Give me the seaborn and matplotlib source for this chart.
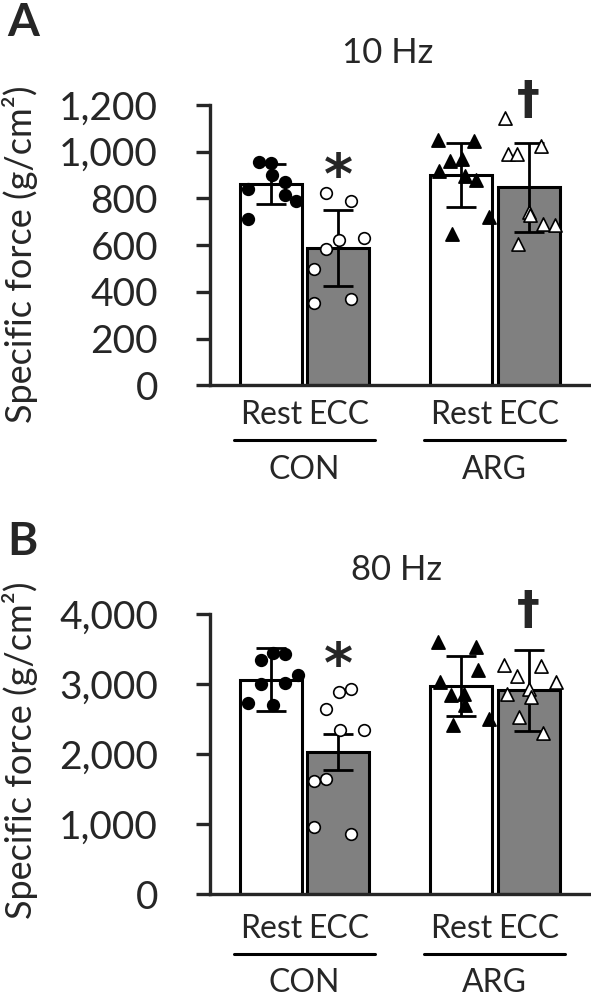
import matplotlib
matplotlib.use("Agg")
import matplotlib.pyplot as plt
import pandas as pd
import seaborn as sns

groups = ["CON", "ARG"]
conditions = ["Rest", "ECC"]
bar_keys = [("CON", "Rest"), ("CON", "ECC"), ("ARG", "Rest"), ("ARG", "ECC")]

# bar means and SD (order follows bar_keys)
mean_10hz = [862, 588, 900, 848]
sd_10hz = [86, 164, 136, 190]
mean_80hz = [3069, 2032, 2975, 2912]
sd_80hz = [445, 262, 430, 576]

# individual animals, 10 Hz
con_rest_10 = [957, 950, 900, 872, 839, 815, 787, 712]
con_ecc_10 = [825, 787, 623, 630, 584, 497, 352, 369]
arg_rest_10 = [1050, 1047, 962, 968, 918, 896, 879, 722, 648]
arg_ecc_10 = [1143, 990, 990, 1026, 744, 730, 691, 687, 606]
# horizontal scatter of each point inside its bar (as seen in the figure)
con_rest_10_dx = [-0.06, 0.0, 0.007, 0.072, -0.121, 0.075, 0.133, -0.121]
con_ecc_10_dx = [-0.065, 0.067, 0.002, 0.133, -0.065, -0.13, -0.13, 0.067]
arg_rest_10_dx = [-0.123, 0.07, -0.058, 0.005, -0.114, 0.018, 0.079, 0.149, -0.047]
arg_ecc_10_dx = [-0.126, -0.109, -0.061, 0.067, 0.002, 0.009, 0.075, 0.137, -0.056]

# individual animals, 80 Hz
con_rest_80 = [3341, 3451, 3427, 3137, 3008, 3018, 2732, 2698]
con_ecc_80 = [2889, 2937, 2651, 2341, 2351, 1626, 1641, 960, 865]
arg_rest_80 = [3604, 3532, 3208, 3032, 2851, 2865, 2698, 2412, 2498]
arg_ecc_80 = [3280, 3118, 3255, 3032, 2865, 2937, 2818, 2532, 2308]
con_rest_80_dx = [-0.051, 0.011, 0.072, 0.142, -0.051, 0.075, -0.121, 0.011]
con_ecc_80_dx = [0.002, 0.067, -0.065, 0.007, 0.133, -0.13, -0.065, -0.13, 0.067]
arg_rest_80_dx = [-0.119, 0.079, 0.088, -0.109, -0.053, 0.014, 0.021, -0.044, 0.149]
arg_ecc_80_dx = [-0.13, -0.06, 0.067, 0.142, -0.116, 0.002, 0.011, -0.051, 0.077]

sns.set_style("ticks")
plt.rcParams["font.family"] = ["Lato", "DejaVu Sans"]
plt.rcParams["axes.linewidth"] = 2.4

BAR_W = 0.71
point_style = {
    ("CON", "Rest"): ("o", "black", 70),
    ("CON", "ECC"): ("o", "white", 70),
    ("ARG", "Rest"): ("^", "black", 90),
    ("ARG", "ECC"): ("^", "white", 90),
}


def bar_x(group, cond):
    return groups.index(group) + (conditions.index(cond) - 0.5) * BAR_W / 2


def draw_panel(ax, means, sds, pts, offsets, ymax, ystep, star_y, dagger_y,
               xpad, line_y, name_y):
    df_bar = pd.DataFrame({
        "group": [g for g, c in bar_keys],
        "condition": [c for g, c in bar_keys],
        "force": means,
    })
    sns.barplot(data=df_bar, x="group", y="force", hue="condition",
                order=groups, hue_order=conditions,
                palette={"Rest": "white", "ECC": "#808080"},
                width=BAR_W, gap=0.08, edgecolor="black", linewidth=2.2,
                errorbar=None, legend=False, ax=ax)

    xs = [bar_x(g, c) for g, c in bar_keys]
    ax.errorbar(xs, means, yerr=sds, fmt="none", ecolor="black",
                elinewidth=2.0, capsize=11, capthick=2.0, zorder=3)

    for key, vals, dx in zip(bar_keys, pts, offsets):
        m, fc, s = point_style[key]
        x0 = bar_x(*key)
        sns.scatterplot(x=[x0 + d for d in dx], y=vals, marker=m, color=fc,
                        edgecolor="black", linewidth=1.2, s=s, ax=ax,
                        zorder=4, legend=False)

    # significance marks: * vs Rest, † vs CON
    ax.text(bar_x("CON", "ECC"), star_y, "*", ha="center", va="baseline",
            fontsize=40, fontweight="bold", family="DejaVu Sans",
            clip_on=False)
    ax.text(bar_x("ARG", "ECC"), dagger_y, "†", ha="center", va="center",
            fontsize=33, fontweight="bold", family="DejaVu Sans",
            clip_on=False)

    ax.set_xlim(-0.5, 1.5)
    ax.set_ylim(0, ymax)
    ticks = list(range(0, ymax + 1, ystep))
    ax.set_yticks(ticks)
    ax.set_yticklabels([f"{t:,}" for t in ticks])
    ax.tick_params(axis="y", length=10, width=2.4, pad=27, labelsize=28)
    ax.set_xticks(xs)
    ax.set_xticklabels([c for g, c in bar_keys])
    ax.tick_params(axis="x", length=0, pad=xpad, labelsize=23)
    ax.set_xlabel("")
    ax.set_ylabel("")
    sns.despine(ax=ax)

    trans = ax.get_xaxis_transform()
    for gi, g in enumerate(groups):
        ax.plot([gi - 0.37, gi + 0.37], [line_y, line_y], color="black",
                lw=2.2, transform=trans, clip_on=False)
        ax.text(gi, name_y, g, ha="center", va="baseline", fontsize=23,
                transform=trans)


fig = plt.figure(figsize=(5.91, 9.97), dpi=100)
ax_a = fig.add_axes([0.3545, 0.6135, 0.6438, 0.2812])
ax_b = fig.add_axes([0.3545, 0.1030, 0.6438, 0.2808])

draw_panel(ax_a, mean_10hz, sd_10hz,
           [con_rest_10, con_ecc_10, arg_rest_10, arg_ecc_10],
           [con_rest_10_dx, con_ecc_10_dx, arg_rest_10_dx, arg_ecc_10_dx],
           1200, 200, star_y=823, dagger_y=1216,
           xpad=10.5, line_y=-0.196, name_y=-0.335)
draw_panel(ax_b, mean_80hz, sd_80hz,
           [con_rest_80, con_ecc_80, arg_rest_80, arg_ecc_80],
           [con_rest_80_dx, con_ecc_80_dx, arg_rest_80_dx, arg_ecc_80_dx],
           4000, 1000, star_y=3034, dagger_y=4034,
           xpad=14.5, line_y=-0.214, name_y=-0.35)

# panel letters, frequency titles, y labels
fig.text(0.012, 0.9639, "A", fontsize=33, fontweight="bold", va="baseline")
fig.text(0.012, 0.4433, "B", fontsize=33, fontweight="bold", va="baseline")
fig.text(0.6565, 0.9368, "10 Hz", fontsize=25, ha="center", va="baseline")
fig.text(0.6717, 0.4183, "80 Hz", fontsize=25, ha="center", va="baseline")
fig.text(0.034, 0.745, "Specific force (g/cm²)", fontsize=26, rotation=90,
         ha="center", va="center")
fig.text(0.034, 0.2477, "Specific force (g/cm²)", fontsize=26, rotation=90,
         ha="center", va="center")

fig.savefig("out.png", dpi=100)
